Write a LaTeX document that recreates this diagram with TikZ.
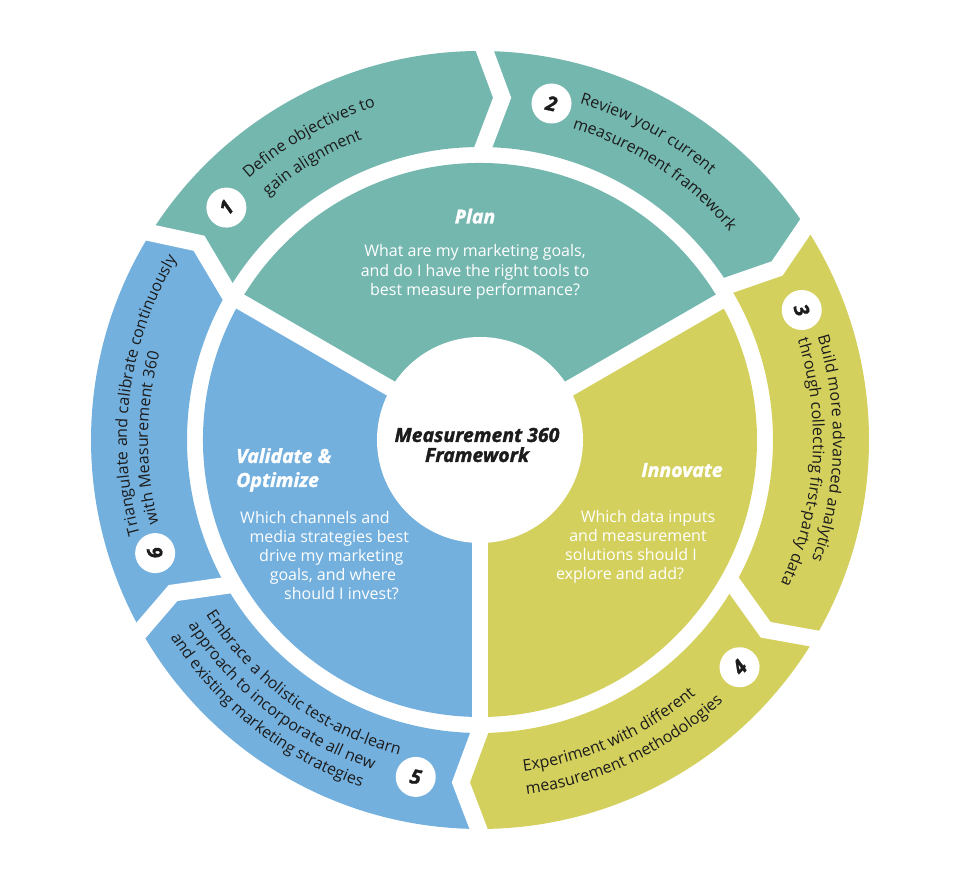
\documentclass[tikz,border=0pt]{standalone}
\usepackage{fontspec}
\setmainfont{Open Sans}
\usetikzlibrary{decorations.text}
\definecolor{tealc}{HTML}{74B7AF}
\definecolor{yelc}{HTML}{D4D05E}
\definecolor{bluc}{HTML}{74B0DE}
\definecolor{ink}{HTML}{1C1C1C}
\newcommand\ringfont{\fontsize{16}{20}\selectfont}
\newcommand\bodyfont{\fontsize{16}{19.5}\selectfont}
\newcommand\titlefont{\fontsize{19.5}{24}\selectfont\bfseries\itshape\addfontfeature{FakeBold=1.5}}
\newcommand\numfont{\fontsize{20}{24}\selectfont\bfseries\itshape\addfontfeature{FakeBold=1.5}}
% segment: colour, start outer/tip/inner angles, end outer/tip/inner angles
\newcommand\ringseg[7]{%
  \fill[#1] (#2:389pt) arc[start angle=#2, end angle=#5, radius=389pt]
    -- (#6:343pt) -- (#7:293pt)
    arc[start angle=#7, end angle=#4, radius=293pt]
    -- (#3:343pt) -- cycle;}
\newcommand\gapchev[3]{\draw[gapline] (#1:402pt) -- (#2:343pt) -- (#3:284pt);}
\tikzset{
  gapline/.style={draw=white, line width=17pt, line join=miter},
  numdisc/.style={circle, fill=white, minimum size=40pt, inner sep=0pt, font=\numfont, text=ink},
  bodytext/.style={text=white, font=\bodyfont, inner sep=0pt},
  titletext/.style={text=white, font=\titlefont, inner sep=0pt},
  centertext/.style={text=ink, font=\titlefont, inner sep=0pt},
  ringtext/.style={decorate, decoration={text along path, text align=left, text color=ink, text={|\ringfont|#1}}},
}
\begin{document}
\begin{tikzpicture}[x=1pt,y=1pt]
\useasboundingbox (0,0) rectangle (964,880);
\begin{scope}[shift={(480,440)}]
  % outer ring
  \ringseg{tealc}{148.5}{145}{150.5}{90}{86.3}{90}
  \ringseg{tealc}{90}{86.3}{90}{34}{30}{32.3}
  \ringseg{yelc}{34}{30}{32.3}{-30}{-33.6}{-29}
  \ringseg{yelc}{-30}{-33.6}{-29}{-89.5}{-93.2}{-89.5}
  \ringseg{bluc}{-89.5}{-93.2}{-89.5}{-150}{-153.5}{-149.5}
  \ringseg{bluc}{210}{206.5}{210.5}{148.5}{145}{150.5}
  \gapchev{90}{86.3}{90}
  \gapchev{34}{30}{32.3}
  \gapchev{-30}{-33.6}{-29}
  \gapchev{-89.5}{-93.2}{-89.5}
  \gapchev{-150}{-153.5}{-149.5}
  \gapchev{148.5}{145}{150.5}
  % inner sectors
  \fill[tealc] (0,0) -- (30:277pt) arc[start angle=30, end angle=150, radius=277pt] -- cycle;
  \fill[yelc] (0,0) -- (-90:277pt) arc[start angle=-90, end angle=30, radius=277pt] -- cycle;
  \fill[bluc] (0,0) -- (150:277pt) arc[start angle=150, end angle=270, radius=277pt] -- cycle;
  \draw[white, line width=16pt] (0,0) -- (30:290pt);
  \draw[white, line width=16pt] (0,0) -- (150:290pt);
  \draw[white, line width=16pt] (0,0) -- (270:290pt);
  \fill[white] (0,0) circle[radius=103pt];
  % numbers
  \node[numdisc, rotate=47.5] (n1) at (137.5:344pt) {1};
  \node[numdisc, rotate=-12] (n2) at (78:344pt) {2};
  \node[numdisc, rotate=-70] (n3) at (22:347pt) {3};
  \node[numdisc, rotate=49] (n4) at (-41.2:345pt) {4};
  \node[numdisc, rotate=-11] (n5) at (-100.8:343pt) {5};
  \node[numdisc, rotate=105] (n6) at (199.2:344pt) {6};
  % ring texts
  \path[ringtext={Define objectives to}] (131.5:349pt) arc[start angle=131.5, end angle=60, radius=349pt];
  \path[ringtext={gain alignment}] (131:323pt) arc[start angle=131, end angle=60, radius=323pt];
  \path[ringtext={Review your current}] (73.5:351pt) arc[start angle=73.5, end angle=0, radius=351pt];
  \path[ringtext={measurement framework}] (73.5:325pt) arc[start angle=73.5, end angle=0, radius=325pt];
  \path[ringtext={Build more advanced analytics}] (17:353pt) arc[start angle=17, end angle=-60, radius=353pt];
  \path[ringtext={through collecting first-party data}] (17.5:333pt) arc[start angle=17.5, end angle=-60, radius=333pt];
  \path[ringtext={Experiment with different}] (-82.5:334pt) arc[start angle=-82.5, end angle=-20, radius=334pt];
  \path[ringtext={measurement methodologies}] (-82.5:357pt) arc[start angle=-82.5, end angle=-20, radius=357pt];
  \path[ringtext={Embrace a holistic test-and-learn}] (212.5:325pt) arc[start angle=212.5, end angle=285, radius=325pt];
  \path[ringtext={approach to incorporate all new}] (212.5:346pt) arc[start angle=212.5, end angle=285, radius=346pt];
  \path[ringtext={and existing marketing strategies}] (212.5:367pt) arc[start angle=212.5, end angle=285, radius=367pt];
  \path[ringtext={Triangulate and calibrate continuously}] (195.5:353pt) arc[start angle=195.5, end angle=120, radius=353pt];
  \path[ringtext={with Measurement 360}] (194.5:332pt) arc[start angle=194.5, end angle=120, radius=332pt];
\end{scope}
% Plan
\node[titletext, anchor=base] (plant) at (475,656.5) {Plan};
\node[bodytext, anchor=base] (planl1) at (475,623) {What are my marketing goals,};
\node[bodytext, anchor=base] (planl2) at (475,603.5) {and do I have the right tools to};
\node[bodytext, anchor=base] (planl3) at (475,584) {best measure performance?};
% Validate & Optimize
\node[titletext, anchor=base west] (valt1) at (236,417) {Validate \&};
\node[titletext, anchor=base west] (valt2) at (236,393) {Optimize};
\node[bodytext, anchor=base west] (vall1) at (240,356.5) {Which channels and};
\node[bodytext, anchor=base west] (vall2) at (249.3,337.5) {media strategies best};
\node[bodytext, anchor=base west] (vall3) at (259,318.5) {drive my marketing};
\node[bodytext, anchor=base west] (vall4) at (269.6,299.5) {goals, and where};
\node[bodytext, anchor=base west] (vall5) at (284,280.5) {should I invest?};
% Innovate
\node[titletext, anchor=base] (innt) at (682,403) {Innovate};
\node[bodytext, anchor=base] (innl1) at (648,357) {Which data inputs};
\node[bodytext, anchor=base] (innl2) at (638,338) {and measurement};
\node[bodytext, anchor=base] (innl3) at (631,319) {solutions should I};
\node[bodytext, anchor=base] (innl4) at (620,300) {explore and add?};
% centre
\node[centertext, anchor=base] (ctr1) at (477,438) {Measurement 360};
\node[centertext, anchor=base] (ctr2) at (477,418) {Framework};
\end{tikzpicture}
\end{document}
